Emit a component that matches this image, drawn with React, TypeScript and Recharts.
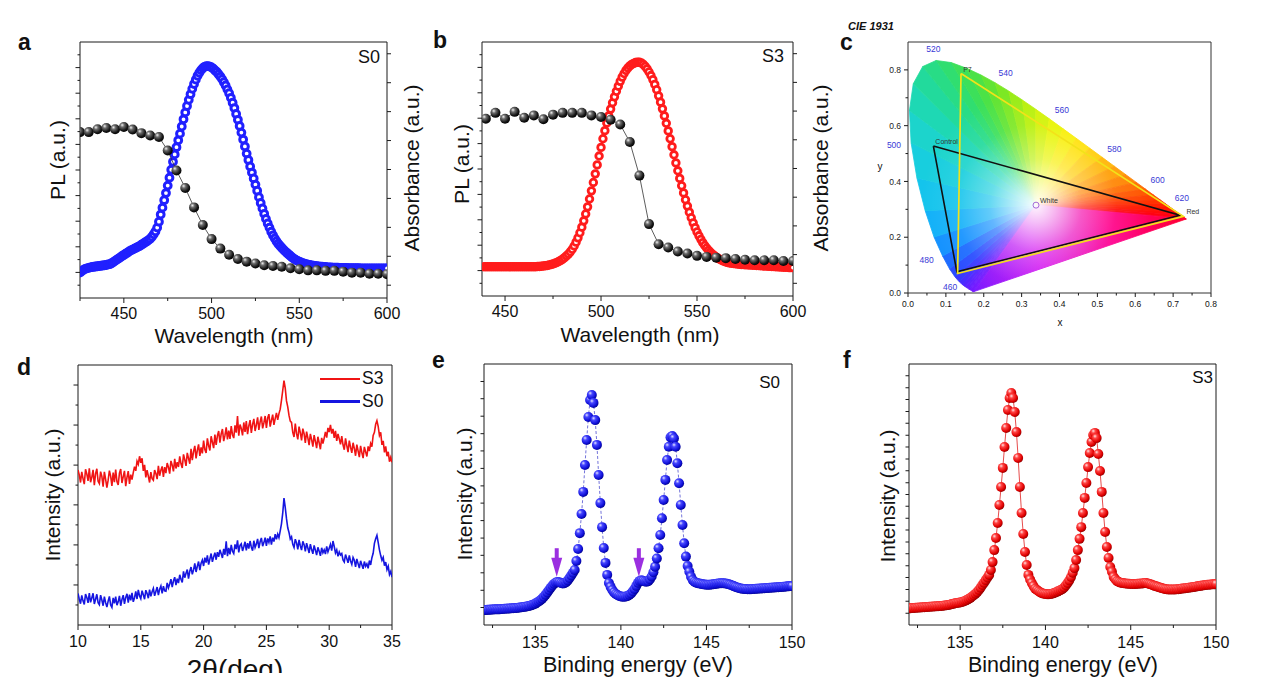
import React from 'react';
import {
  ScatterChart,
  Scatter,
  XAxis,
  YAxis,
  ReferenceLine,
  ReferenceDot,
  Legend,
} from 'recharts';

const FONT = '"Liberation Sans", Arial, Helvetica, sans-serif';
const INK = '#1a1a1a';

// ---------- panel a : S0 photoluminescence (1 nm grid) + absorbance
const PL_S0_START = 425;
const PL_S0 = [
  9.9, 10.5, 11.0, 11.4, 11.6, 11.8, 12.0, 12.1, 12.2, 12.3,
  12.4, 12.5, 12.6, 12.7, 12.8, 12.9, 13.1, 13.2, 13.6, 14.0,
  14.5, 15.0, 15.4, 15.9, 16.4, 16.8, 17.3, 17.7, 18.2, 18.6,
  18.9, 19.3, 19.6, 20.0, 20.3, 20.8, 21.2, 21.7, 22.1, 22.6,
  23.1, 23.9, 24.9, 26.0, 27.5, 29.8, 32.6, 35.3, 38.2, 41.0,
  43.9, 47.0, 50.1, 53.2, 56.1, 58.9, 61.6, 64.2, 67.0, 69.8,
  72.5, 75.0, 77.4, 79.6, 81.7, 83.6, 85.3, 86.8, 88.0, 89.0,
  89.8, 90.3, 90.6, 90.6, 90.4, 90.1, 89.6, 88.9, 88.3, 87.4,
  86.5, 85.5, 84.3, 83.0, 81.5, 80.0, 78.2, 76.3, 74.2, 71.9,
  69.6, 67.2, 64.6, 61.9, 59.2, 56.4, 53.9, 51.4, 49.0, 46.7,
  44.3, 41.9, 39.4, 37.1, 35.0, 32.9, 30.9, 29.1, 27.5, 25.9,
  24.5, 23.3, 22.2, 21.2, 20.4, 19.6, 18.9, 18.2, 17.6, 17.0,
  16.4, 15.8, 15.3, 14.9, 14.5, 14.2, 13.9, 13.6, 13.4, 13.2,
  13.0, 12.9, 12.7, 12.6, 12.5, 12.4, 12.3, 12.2, 12.2, 12.1,
  12.1, 12.0, 12.0, 12.0, 11.9, 11.9, 11.9, 11.9, 11.8, 11.8,
  11.8, 11.8, 11.8, 11.7, 11.7, 11.7, 11.7, 11.7, 11.7, 11.7,
  11.6, 11.6, 11.6, 11.6, 11.6, 11.6, 11.6, 11.6, 11.6, 11.6,
  11.6, 11.6, 11.6, 11.6, 11.6, 11.6,
];
const ABS_S0_NM = [
  425, 430, 435, 440, 445, 450, 455, 460, 465, 470, 475, 480, 485, 490, 495, 500, 505, 510,
  515, 520, 525, 530, 535, 540, 545, 550, 555, 560, 565, 570, 575, 580, 585, 590, 595, 600,
];
const ABS_S0 = [
  64.8, 64.8, 65.9, 66.4, 65.9, 66.8, 65.8, 64.4, 63.5, 62.9, 57.6, 49.8, 43.0, 35.4, 28.5, 23.0, 19.3, 16.9,
  15.2, 14.2, 13.5, 12.8, 12.5, 12.2, 11.6, 11.2, 10.8, 10.8, 10.6, 10.6, 10.3, 9.9, 9.9, 9.5, 9.5, 9.3,
];

// ---------- panel b : S3 photoluminescence + absorbance
const PL_S3_START = 439;
const PL_S3 = [
  11.5, 11.5, 11.5, 11.5, 11.5, 11.5, 11.5, 11.5, 11.5, 11.5,
  11.5, 11.5, 11.5, 11.5, 11.5, 11.5, 11.5, 11.5, 11.5, 11.5,
  11.5, 11.5, 11.5, 11.5, 11.5, 11.5, 11.5, 11.5, 11.6, 11.6,
  11.7, 11.8, 11.9, 12.0, 12.2, 12.4, 12.6, 12.9, 13.2, 13.6,
  14.0, 14.5, 15.1, 15.8, 16.5, 17.4, 18.4, 19.7, 21.2, 22.9,
  24.9, 27.1, 29.6, 32.3, 35.1, 38.2, 41.4, 44.7, 48.1, 51.6,
  55.1, 58.5, 61.9, 65.1, 68.1, 70.9, 73.6, 76.1, 78.4, 80.6,
  82.6, 84.5, 86.2, 87.6, 88.8, 89.8, 90.6, 91.2, 91.6, 91.9,
  92.0, 92.0, 91.8, 91.2, 90.4, 89.4, 88.2, 86.8, 85.2, 83.3,
  81.2, 78.8, 76.3, 73.7, 70.9, 68.0, 65.0, 61.9, 58.8, 55.6,
  52.4, 49.3, 46.3, 43.4, 40.6, 37.9, 35.4, 33.0, 30.8, 28.8,
  26.9, 25.2, 23.7, 22.3, 21.0, 19.9, 18.9, 18.0, 17.2, 16.5,
  15.9, 15.3, 14.8, 14.4, 14.0, 13.7, 13.4, 13.2, 13.0, 12.9,
  12.8, 12.7, 12.6, 12.5, 12.4, 12.4, 12.3, 12.3, 12.2, 12.2,
  12.1, 12.1, 12.0, 12.0, 11.9, 11.9, 11.8, 11.8, 11.7, 11.7,
  11.6, 11.6, 11.5, 11.5, 11.4, 11.4, 11.3, 11.3, 11.3, 11.2,
  11.2, 11.2,
];
const ABS_S3_NM = [
  440, 445, 450, 455, 460, 465, 470, 475, 480, 485, 490, 495, 500, 505, 510, 515, 520,
  525, 530, 535, 540, 545, 550, 555, 560, 565, 570, 575, 580, 585, 590, 595, 600,
];
const ABS_S3 = [
  69.8, 72.1, 69.8, 72.5, 70.2, 71.1, 69.6, 71.4, 72.1, 72.1, 72.1, 71.1, 70.5, 69.4, 67.5, 60.6, 47.4,
  28.3, 20.4, 19.1, 17.5, 16.7, 15.8, 15.4, 15.1, 14.9, 14.6, 14.3, 14.1, 14.1, 14.1, 13.8, 13.8,
];

// ---------- panel c : CIE 1931 chromaticity
const LOCUS_NM = [
  380, 420, 440, 445, 450, 455, 460, 465, 470, 475, 480, 485, 490, 495, 500, 505, 510, 515, 520, 525, 530, 535,
  540, 545, 550, 555, 560, 565, 570, 575, 580, 585, 590, 595, 600, 605, 610, 615, 620, 630, 640, 660, 700,
];
const LOCUS_X = [
  0.1741, 0.1714, 0.1644, 0.1611, 0.1566, 0.151, 0.144, 0.1355, 0.1241, 0.1096, 0.0913, 0.0687, 0.0454, 0.0235,
  0.0082, 0.0039, 0.0139, 0.0389, 0.0743, 0.1142, 0.1547, 0.1929, 0.2296, 0.2658, 0.3016, 0.3373, 0.3731, 0.4087,
  0.4441, 0.4788, 0.5125, 0.5448, 0.5752, 0.6029, 0.627, 0.6482, 0.6658, 0.6801, 0.6915, 0.7079, 0.719, 0.73, 0.7347,
];
const LOCUS_Y = [
  0.005, 0.0051, 0.0109, 0.0138, 0.0177, 0.0227, 0.0297, 0.0399, 0.0578, 0.0868, 0.1327, 0.2007, 0.295, 0.4127,
  0.5384, 0.6548, 0.7502, 0.812, 0.8338, 0.8262, 0.8059, 0.7816, 0.7543, 0.7243, 0.6923, 0.6589, 0.6245, 0.5896,
  0.5547, 0.5202, 0.4866, 0.4544, 0.4242, 0.3965, 0.3725, 0.3514, 0.334, 0.3197, 0.3083, 0.292, 0.2809, 0.27, 0.2653,
];
const LOCUS_COLORS = [
  '#7414ff', '#7014ff', '#6a18ff', '#6418ff', '#5c1cff', '#5020ff', '#4428ff', '#3434ff', '#2448ff', '#1868ff',
  '#1090ff', '#10b0f8', '#14c4ec', '#18cede', '#1cd4cc', '#1ed8b4', '#22da9c', '#28dc86', '#30de70', '#3ce05a',
  '#4ce246', '#62e434', '#7ce824', '#9aec16', '#b8f00a', '#d2f204', '#e8f400', '#f8ee00', '#ffe000', '#ffcc00',
  '#ffb400', '#ff9c00', '#ff8400', '#ff6c00', '#ff5600', '#ff4200', '#ff3200', '#ff2400', '#ff1800', '#ff0c08',
  '#ff0410', '#ff0018', '#ff0020',
];
const WHITE_POINT = [0.338, 0.315];
const CONTROL_X = [0.067, 0.718, 0.129, 0.067];
const CONTROL_Y = [0.527, 0.279, 0.076, 0.527];
const P7_X = [0.14, 0.727, 0.131, 0.14];
const P7_Y = [0.787, 0.275, 0.07, 0.787];
const NM_LABELS = ['520', '540', '560', '580', '600', '620', '500', '480', '460'];
const NM_LABEL_X = [0.067, 0.258, 0.406, 0.545, 0.659, 0.723, -0.037, 0.049, 0.111];
const NM_LABEL_Y = [0.876, 0.789, 0.656, 0.518, 0.404, 0.34, 0.532, 0.118, 0.02];
const NAME_LABELS = ['Control', 'P7', 'White', 'Red'];
const NAME_LABEL_X = [0.102, 0.157, 0.372, 0.752];
const NAME_LABEL_Y = [0.543, 0.801, 0.332, 0.293];

// ---------- panel d : XRD, 0.1 deg grid from 10 to 35
const XRD_START = 10;
const XRD_S3 = [
  59.6, 57.7, 54.8, 58.9, 56.3, 54.2, 59.9, 58.1, 55.4, 60.3,
  54.9, 56.8, 59.7, 53.8, 58.2, 60.1, 55.3, 54.4, 59.0, 57.2,
  53.2, 58.9, 56.0, 52.8, 55.7, 59.4, 57.3, 53.5, 58.6, 54.9,
  59.8, 55.2, 53.9, 58.4, 60.0, 54.6, 57.1, 59.3, 53.4, 56.8,
  59.2, 54.3, 57.8, 55.9, 58.6, 60.9, 59.3, 63.0, 61.8, 64.9,
  62.4, 64.1, 59.3, 61.6, 56.8, 59.6, 57.2, 54.8, 58.8, 56.3,
  55.7, 59.6, 58.3, 56.1, 61.2, 57.4, 59.5, 61.0, 57.0, 60.7,
  58.4, 62.3, 60.7, 58.2, 63.1, 61.5, 59.1, 63.9, 60.2, 62.6,
  60.8, 64.9, 62.0, 60.4, 65.6, 63.6, 61.2, 66.2, 64.1, 62.0,
  67.8, 63.4, 66.7, 68.9, 64.1, 67.2, 69.5, 65.0, 68.3, 66.0,
  70.9, 67.5, 66.2, 71.8, 69.0, 67.1, 72.6, 70.3, 68.0, 73.2,
  69.3, 72.8, 74.6, 70.1, 73.5, 75.4, 70.7, 72.9, 76.0, 71.4,
  74.8, 71.6, 76.5, 73.2, 71.9, 76.8, 74.0, 80.4, 72.8, 77.1,
  75.6, 72.9, 77.9, 74.3, 78.4, 73.4, 76.6, 78.8, 73.9, 77.2,
  79.3, 74.6, 77.0, 79.9, 75.0, 78.1, 80.2, 75.6, 77.8, 80.4,
  75.8, 79.6, 81.1, 76.3, 78.7, 80.9, 77.0, 79.4, 81.6, 78.9,
  81.3, 83.0, 86.4, 90.2, 94.0, 91.1, 86.2, 83.9, 80.6, 78.4,
  77.9, 74.1, 72.3, 77.5, 73.6, 71.4, 76.3, 74.0, 71.0, 75.5,
  73.6, 70.0, 74.4, 72.0, 69.2, 73.5, 71.3, 68.6, 73.0, 70.6,
  68.0, 72.4, 70.1, 67.6, 72.0, 69.8, 71.9, 74.3, 72.1, 75.8,
  74.2, 77.0, 73.6, 75.4, 72.0, 74.7, 70.8, 73.5, 71.6, 69.5,
  72.6, 69.3, 67.4, 71.8, 69.0, 66.5, 70.9, 68.4, 66.2, 70.1,
  67.9, 65.1, 69.4, 67.0, 64.6, 68.9, 66.3, 64.2, 68.5, 66.6,
  64.8, 68.7, 66.9, 69.8, 68.6, 72.9, 74.1, 77.2, 78.6, 76.4,
  72.9, 74.1, 69.3, 70.8, 66.4, 68.7, 64.9, 66.6, 62.8, 64.5,
  62.6,
];
const XRD_S0 = [
  12.1, 10.0, 8.2, 11.4, 9.3, 7.9, 11.9, 10.6, 8.5, 12.3,
  8.7, 10.4, 12.2, 8.1, 9.9, 11.8, 8.6, 7.8, 11.5, 9.6,
  7.4, 10.9, 8.6, 6.9, 9.2, 11.0, 7.7, 6.8, 10.4, 8.3,
  10.9, 7.6, 8.9, 11.2, 7.4, 9.8, 11.5, 8.1, 10.6, 12.0,
  8.6, 11.7, 9.5, 12.4, 8.9, 10.5, 12.9, 10.0, 13.5, 11.2,
  10.1, 13.2, 11.6, 9.9, 13.4, 12.1, 10.3, 13.6, 11.0, 12.8,
  14.1, 11.2, 12.9, 14.6, 11.5, 13.8, 15.0, 12.2, 14.9, 13.1,
  13.0, 16.2, 14.3, 15.8, 17.6, 14.6, 16.9, 18.4, 15.3, 17.8,
  16.1, 19.3, 17.6, 16.4, 20.6, 18.2, 19.9, 21.3, 17.8, 20.7,
  22.3, 19.5, 21.2, 23.7, 20.4, 22.6, 24.4, 21.1, 23.8, 25.0,
  22.7, 25.9, 24.0, 26.8, 23.2, 25.4, 27.5, 24.3, 26.2, 27.8,
  25.1, 28.0, 26.2, 28.9, 27.4, 25.8, 29.3, 27.0, 32.2, 26.5,
  29.7, 27.2, 30.8, 28.4, 27.5, 31.0, 29.2, 32.6, 27.9, 30.6,
  31.2, 28.5, 30.1, 32.0, 28.7, 31.5, 29.4, 32.3, 30.0, 28.6,
  32.4, 29.8, 31.1, 33.1, 29.6, 32.0, 33.5, 30.3, 31.7, 33.6,
  30.4, 33.3, 31.8, 34.1, 30.9, 33.6, 32.1, 34.9, 33.0, 35.0,
  33.6, 36.2, 38.9, 43.0, 48.8, 45.2, 40.9, 37.4, 35.6, 33.1,
  33.9, 31.0, 29.8, 33.0, 31.6, 29.1, 32.7, 30.5, 28.8, 32.2,
  30.9, 28.3, 31.5, 29.6, 27.7, 31.1, 29.0, 27.4, 30.6, 28.8,
  26.9, 29.9, 28.4, 26.6, 29.7, 27.8, 28.9, 27.3, 30.2, 28.1,
  29.5, 31.0, 28.6, 32.3, 30.2, 27.7, 28.9, 26.4, 28.1, 26.9,
  27.5, 25.0, 24.2, 27.1, 25.6, 23.9, 26.8, 24.6, 23.3, 26.0,
  24.9, 22.4, 25.4, 23.6, 21.9, 24.7, 23.2, 21.6, 24.4, 22.6,
  23.5, 21.8, 24.8, 23.1, 25.9, 27.6, 31.4, 33.2, 34.5, 31.8,
  28.9, 26.7, 24.9, 26.0, 22.8, 24.2, 21.3, 22.6, 19.4, 20.6,
  18.4,
];

// ---------- panels e, f : XPS, 0.1 eV grid from 132 to 150
const XPS_START = 132;
const XPS_S0 = [
  5.7, 5.7, 5.8, 5.8, 5.9, 5.9, 6.0, 6.0, 6.0, 6.0,
  6.1, 6.1, 6.2, 6.2, 6.3, 6.3, 6.4, 6.4, 6.5, 6.5,
  6.6, 6.7, 6.8, 6.9, 7.0, 7.1, 7.3, 7.4, 7.7, 7.9,
  8.2, 8.6, 9.0, 9.5, 10.1, 10.8, 11.6, 12.5, 13.4, 14.3,
  15.1, 15.8, 16.3, 16.5, 16.4, 16.1, 15.9, 16.0, 16.4, 17.1,
  18.0, 19.0, 20.0, 21.1, 24.5, 29.1, 35.2, 42.5, 51.0, 61.3,
  70.9, 79.7, 86.2, 88.1, 85.1, 78.5, 69.0, 57.5, 46.7, 37.5,
  29.5, 23.8, 19.2, 16.1, 14.6, 13.4, 12.5, 11.9, 11.5, 11.1,
  10.9, 10.8, 10.8, 10.9, 11.1, 11.6, 12.1, 12.9, 13.8, 15.0,
  16.2, 16.9, 17.1, 16.9, 16.7, 16.6, 16.8, 17.5, 18.6, 20.2,
  22.3, 25.5, 29.4, 34.5, 40.9, 47.9, 55.6, 63.2, 68.3, 71.9,
  72.4, 71.5, 68.3, 62.0, 54.3, 46.0, 38.3, 31.3, 26.2, 22.6,
  20.4, 18.5, 17.2, 16.6, 16.2, 16.0, 15.9, 15.7, 15.6, 15.5,
  15.4, 15.4, 15.4, 15.5, 15.6, 15.7, 15.8, 15.9, 16.0, 16.0,
  16.0, 15.9, 15.8, 15.6, 15.4, 15.1, 14.9, 14.6, 14.4, 14.2,
  14.0, 13.9, 13.8, 13.8, 13.7, 13.7, 13.7, 13.8, 13.8, 13.9,
  13.9, 14.0, 14.0, 14.1, 14.1, 14.2, 14.2, 14.3, 14.3, 14.4,
  14.4, 14.5, 14.5, 14.6, 14.6, 14.7, 14.7, 14.8, 14.8, 14.9,
  14.9,
];
const XPS_S3 = [
  6.4, 6.4, 6.5, 6.5, 6.6, 6.6, 6.7, 6.7, 6.8, 6.8,
  6.9, 6.9, 7.0, 7.0, 7.1, 7.1, 7.2, 7.2, 7.3, 7.3,
  7.4, 7.5, 7.6, 7.7, 7.8, 8.0, 8.1, 8.3, 8.4, 8.5,
  8.6, 8.8, 9.0, 9.3, 9.6, 10.0, 10.4, 10.9, 11.4, 12.0,
  12.6, 13.4, 14.3, 15.3, 16.2, 17.2, 18.2, 19.2, 21.1, 24.1,
  28.7, 33.3, 39.1, 46.0, 52.9, 60.2, 68.2, 75.5, 82.4, 87.0,
  88.9, 87.0, 81.6, 73.9, 64.0, 52.9, 42.9, 34.9, 28.0, 23.0,
  19.2, 17.4, 16.1, 14.9, 13.9, 13.4, 12.9, 12.5, 12.2, 12.0,
  11.9, 11.8, 11.8, 11.9, 12.0, 12.3, 12.5, 12.8, 13.1, 13.4,
  13.8, 14.4, 15.2, 16.1, 17.1, 18.4, 20.0, 21.8, 24.9, 28.7,
  33.0, 37.5, 42.9, 48.7, 54.4, 60.5, 65.9, 70.1, 72.8, 73.6,
  71.6, 65.5, 59.0, 51.0, 42.9, 35.6, 29.9, 25.7, 22.2, 20.4,
  18.4, 17.5, 16.8, 16.5, 16.2, 16.1, 16.0, 15.9, 15.8, 15.8,
  15.7, 15.7, 15.7, 15.7, 15.8, 15.8, 15.9, 15.9, 16.1, 16.1,
  15.9, 15.7, 15.5, 15.2, 15.0, 14.8, 14.6, 14.4, 14.2, 14.0,
  13.8, 13.7, 13.6, 13.6, 13.6, 13.6, 13.6, 13.7, 13.7, 13.8,
  14.0, 14.0, 14.1, 14.2, 14.3, 14.4, 14.5, 14.6, 14.7, 14.8,
  14.9, 15.0, 15.1, 15.2, 15.3, 15.4, 15.4, 15.5, 15.6, 15.6,
  15.7,
];
const ARROW_EV = [136.25, 141.05];
const ARROW_Y = [18.5, 18.5];

// ---------- tick positions
const WL_TICKS_A = [425, 450, 475, 500, 525, 550, 575, 600];
const WL_TICKS_B = [450, 475, 500, 525, 550, 575, 600];
const PL_TICKS = [5, 10, 15, 20, 25, 30, 35, 40, 45, 50, 55, 60, 65, 70, 75, 80, 85, 90, 95];
const ABS_TICKS = [5, 16.3, 27.6, 38.9, 50.2, 61.5, 72.8, 84.1, 95.4];
const CIE_X_TICKS = [0, 0.05, 0.1, 0.15, 0.2, 0.25, 0.3, 0.35, 0.4, 0.45, 0.5, 0.55, 0.6, 0.65, 0.7, 0.75, 0.8];
const CIE_Y_TICKS = [0, 0.1, 0.2, 0.3, 0.4, 0.5, 0.6, 0.7, 0.8];
const XRD_X_TICKS = [10, 12.5, 15, 17.5, 20, 22.5, 25, 27.5, 30, 32.5, 35];
const XRD_Y_MAJOR = [15.4, 30.8, 46.2, 61.5, 76.9, 92.3];
const XRD_Y_TICKS = [7.7, 15.4, 23.1, 30.8, 38.5, 46.2, 53.8, 61.5, 69.2, 76.9, 84.6, 92.3];
const XPS_X_TICKS = [132.5, 135, 137.5, 140, 142.5, 145, 147.5, 150];
const XPS_S0_Y_TICKS = [6.7, 13.3, 20, 26.7, 33.3, 40, 46.7, 53.3, 60, 66.7, 73.3, 80, 86.7, 93.3];
const XPS_S3_Y_TICKS = [
  4.5, 9.1, 13.6, 18.2, 22.7, 27.3, 31.8, 36.4, 40.9, 45.5, 50, 54.5, 59.1, 63.6, 68.2, 72.7, 77.3, 81.8, 86.4,
  90.9, 95.5,
];
const LEGEND_ORDER = ['S3', 'S0'];

const grid = (start: number, step: number, ys: number[]) =>
  ys.map((y, i) => ({ x: Math.round((start + i * step) * 100) / 100, y }));
const pairs = (xs: number[], ys: number[]) => xs.map((x, i) => ({ x, y: ys[i] }));

const plS0 = grid(PL_S0_START, 1, PL_S0);
const absS0 = pairs(ABS_S0_NM, ABS_S0);
const plS3 = grid(PL_S3_START, 1, PL_S3);
const absS3 = pairs(ABS_S3_NM, ABS_S3);
const gamut = [{ x: WHITE_POINT[0], y: WHITE_POINT[1] }, ...pairs(LOCUS_X, LOCUS_Y)];
const controlTri = pairs(CONTROL_X, CONTROL_Y);
const p7Tri = pairs(P7_X, P7_Y);
const xrdS3 = grid(XRD_START, 0.1, XRD_S3);
const xrdS0 = grid(XRD_START, 0.1, XRD_S0);
const xpsS0 = grid(XPS_START, 0.1, XPS_S0);
const xpsS3 = grid(XPS_START, 0.1, XPS_S3);
const arrows = pairs(ARROW_EV, ARROW_Y);

type TickCfg = {
  side: 'left' | 'right' | 'bottom';
  len: (v: number) => number;
  label?: (v: number) => string | null;
  fontSize?: number;
  gap?: number;
};

const tickRenderer = (cfg: TickCfg) => (props: any) => {
  const { x, y, payload } = props;
  const v = payload.value as number;
  const len = cfg.len(v);
  const text = cfg.label ? cfg.label(v) : null;
  const fs = cfg.fontSize ?? 16;
  const gap = cfg.gap ?? 4;
  if (cfg.side === 'bottom') {
    return (
      <g>
        <line x1={x} x2={x} y1={y} y2={y + len} stroke={INK} strokeWidth={1} />
        {text !== null && (
          <text x={x} y={y + len + gap + fs * 0.72} textAnchor="middle" fontSize={fs} fill="#111" fontFamily={FONT}>
            {text}
          </text>
        )}
      </g>
    );
  }
  const dir = cfg.side === 'left' ? -1 : 1;
  return (
    <g>
      <line x1={x} x2={x + dir * len} y1={y} y2={y} stroke={INK} strokeWidth={1} />
      {text !== null && (
        <text
          x={x + dir * (len + gap)}
          y={y + fs * 0.36}
          textAnchor={dir < 0 ? 'end' : 'start'}
          fontSize={fs}
          fill="#222"
          fontFamily={FONT}
        >
          {text}
        </text>
      )}
    </g>
  );
};

const AXIS = { stroke: INK, strokeWidth: 1 };
const noShape = () => <g />;
const ring = (color: string, r: number, w: number) => (p: any) => (
  <circle cx={p.cx} cy={p.cy} r={r} fill="#fff" stroke={color} strokeWidth={w} />
);
const ball = (id: string, r: number) => (p: any) => <circle cx={p.cx} cy={p.cy} r={r} fill={`url(#${id})`} />;
const arrowShape = (p: any) => (
  <g fill="#9b2fe0">
    <rect x={p.cx - 2} y={p.cy - 28.5} width={4} height={10} />
    <polygon points={`${p.cx - 5.5},${p.cy - 19} ${p.cx + 5.5},${p.cy - 19} ${p.cx},${p.cy}`} />
  </g>
);

// filled horseshoe: fan of sectors from the white point, then a white glow
const renderGamut = (props: any) => {
  const pts = props.points as { x: number; y: number }[];
  if (!pts || pts.length < 3) return <g />;
  const [w, ...edge] = pts;
  const first = edge[0];
  const last = edge[edge.length - 1];
  const sectors = [];
  for (let i = 0; i < edge.length - 1; i++) {
    const a = edge[i];
    const b = edge[i + 1];
    sectors.push(
      <polygon
        key={i}
        points={`${w.x},${w.y} ${a.x},${a.y} ${b.x},${b.y}`}
        fill={LOCUS_COLORS[i]}
        stroke={LOCUS_COLORS[i]}
        strokeWidth={0.8}
        strokeLinejoin="round"
      />,
    );
  }
  const outline = edge.map((p) => `${p.x},${p.y}`).join(' ');
  return (
    <g>
      <defs>
        <linearGradient id="ciePurple" gradientUnits="userSpaceOnUse" x1={last.x} y1={last.y} x2={first.x} y2={first.y}>
          <stop offset="0" stopColor="#ff0030" />
          <stop offset="0.35" stopColor="#ff0090" />
          <stop offset="0.68" stopColor="#d000f0" />
          <stop offset="1" stopColor="#7414ff" />
        </linearGradient>
        <radialGradient id="cieWhite" gradientUnits="userSpaceOnUse" cx={w.x} cy={w.y} r={115}>
          <stop offset="0" stopColor="#fff" stopOpacity={0.97} />
          <stop offset="0.15" stopColor="#fff" stopOpacity={0.75} />
          <stop offset="0.4" stopColor="#fff" stopOpacity={0.35} />
          <stop offset="0.7" stopColor="#fff" stopOpacity={0.08} />
          <stop offset="1" stopColor="#fff" stopOpacity={0} />
        </radialGradient>
      </defs>
      {sectors}
      <polygon
        points={`${w.x},${w.y} ${last.x},${last.y} ${first.x},${first.y}`}
        fill="url(#ciePurple)"
        stroke="url(#ciePurple)"
        strokeWidth={0.8}
      />
      <polygon points={outline} fill="url(#cieWhite)" />
    </g>
  );
};

const xrdLegend = (props: any) => {
  const items = ([...(props.payload || [])] as any[]).sort(
    (a, b) => LEGEND_ORDER.indexOf(a.value) - LEGEND_ORDER.indexOf(b.value),
  );
  return (
    <div style={{ fontFamily: FONT }}>
      {items.map((it) => (
        <div key={it.value} style={{ display: 'flex', alignItems: 'center', height: 22.7 }}>
          <span style={{ display: 'inline-block', width: 40, height: 2.5, background: it.color }} />
          <span style={{ fontSize: 17.5, color: '#111', marginLeft: 2 }}>{it.value}</span>
        </div>
      ))}
    </div>
  );
};

const Abs = ({ left, top, children }: { left: number; top: number; children: React.ReactNode }) => (
  <div style={{ position: 'absolute', left, top }}>{children}</div>
);

const bottomWl = tickRenderer({
  side: 'bottom',
  len: (v) => (v % 50 === 0 ? 5 : 3),
  label: (v) => (v % 50 === 0 ? String(v) : null),
  gap: 4,
});
const leftMinor = (majorEvery: number) =>
  tickRenderer({ side: 'left', len: (v) => (Math.round(v) % majorEvery === 0 ? 4.5 : 2.5) });

export default function App() {
  return (
    <div
      style={{
        position: 'absolute',
        left: 0,
        top: 0,
        width: 1280,
        height: 687,
        background: '#fff',
        overflow: 'hidden',
        fontFamily: FONT,
      }}
    >
      <svg width={0} height={0} style={{ position: 'absolute' }}>
        <defs>
          <radialGradient id="ballBlack" cx="0.38" cy="0.36" r="0.68" fx="0.33" fy="0.3">
            <stop offset="0" stopColor="#f2f2f2" />
            <stop offset="0.3" stopColor="#6c6c6c" />
            <stop offset="0.75" stopColor="#151515" />
            <stop offset="1" stopColor="#000" />
          </radialGradient>
          <radialGradient id="ballBlue" cx="0.38" cy="0.36" r="0.68" fx="0.33" fy="0.3">
            <stop offset="0" stopColor="#e4e4ff" />
            <stop offset="0.3" stopColor="#4646ff" />
            <stop offset="0.75" stopColor="#1010d8" />
            <stop offset="1" stopColor="#00008a" />
          </radialGradient>
          <radialGradient id="ballRed" cx="0.38" cy="0.36" r="0.68" fx="0.33" fy="0.3">
            <stop offset="0" stopColor="#ffe4e4" />
            <stop offset="0.3" stopColor="#ff4444" />
            <stop offset="0.75" stopColor="#e00000" />
            <stop offset="1" stopColor="#8c0000" />
          </radialGradient>
        </defs>
      </svg>

      {/* a */}
      <Abs left={0} top={0}>
        <ScatterChart width={430} height={345} margin={{ top: 42, right: 0, bottom: 0, left: 0 }}>
          <XAxis type="number" dataKey="x" domain={[425, 600]} allowDataOverflow ticks={WL_TICKS_A} interval={0}
            tickSize={0} tickMargin={0} tickLine={false} axisLine={AXIS} height={47} tick={bottomWl} />
          <YAxis yAxisId="pl" type="number" dataKey="y" domain={[0, 100]} allowDataOverflow ticks={PL_TICKS}
            interval={0} tickSize={0} tickMargin={0} tickLine={false} axisLine={AXIS} width={80} tick={leftMinor(10)} />
          <YAxis yAxisId="abs" orientation="right" type="number" dataKey="y" domain={[0, 100]} allowDataOverflow
            ticks={ABS_TICKS} interval={0} tickSize={0} tickMargin={0} tickLine={false} axisLine={AXIS} width={43}
            tick={tickRenderer({ side: 'right', len: () => 4 })} />
          <ReferenceLine yAxisId="pl" y={100} stroke={INK} strokeWidth={1} />
          <Scatter yAxisId="pl" data={plS0} shape={ring('#2020ff', 3.4, 3.0)} isAnimationActive={false} />
          <Scatter yAxisId="abs" data={absS0} line={{ stroke: '#333', strokeWidth: 0.8 }}
            shape={ball('ballBlack', 5)} isAnimationActive={false} />
        </ScatterChart>
      </Abs>

      {/* b */}
      <Abs left={440} top={0}>
        <ScatterChart width={400} height={345} margin={{ top: 42, right: 0, bottom: 0, left: 0 }}>
          <XAxis type="number" dataKey="x" domain={[438, 600]} allowDataOverflow ticks={WL_TICKS_B} interval={0}
            tickSize={0} tickMargin={0} tickLine={false} axisLine={AXIS} height={49} tick={bottomWl} />
          <YAxis yAxisId="pl" type="number" dataKey="y" domain={[0, 100]} allowDataOverflow ticks={PL_TICKS}
            interval={0} tickSize={0} tickMargin={0} tickLine={false} axisLine={AXIS} width={42} tick={leftMinor(10)} />
          <YAxis yAxisId="abs" orientation="right" type="number" dataKey="y" domain={[0, 100]} allowDataOverflow
            ticks={ABS_TICKS} interval={0} tickSize={0} tickMargin={0} tickLine={false} axisLine={AXIS} width={47}
            tick={tickRenderer({ side: 'right', len: () => 4 })} />
          <ReferenceLine yAxisId="pl" y={100} stroke={INK} strokeWidth={1} />
          <Scatter yAxisId="pl" data={plS3} shape={ring('#ff1c1c', 3.3, 2.8)} isAnimationActive={false} />
          <Scatter yAxisId="abs" data={absS3} line={{ stroke: '#333', strokeWidth: 0.8 }}
            shape={ball('ballBlack', 5)} isAnimationActive={false} />
        </ScatterChart>
      </Abs>

      {/* c */}
      <Abs left={860} top={0}>
        <ScatterChart width={380} height={340} margin={{ top: 42, right: 29, bottom: 0, left: 0 }}>
          <XAxis type="number" dataKey="x" domain={[0, 0.8]} allowDataOverflow ticks={CIE_X_TICKS} interval={0}
            tickSize={0} tickMargin={0} tickLine={false} axisLine={{ stroke: '#333' }} height={47}
            tick={tickRenderer({
              side: 'bottom',
              len: (v) => (Math.round(v * 100) % 10 === 0 ? 4 : 2.5),
              label: (v) => (Math.round(v * 100) % 10 === 0 ? v.toFixed(1) : null),
              fontSize: 8.5,
              gap: 4.2,
            })} />
          <YAxis type="number" dataKey="y" domain={[0, 0.9]} allowDataOverflow ticks={CIE_Y_TICKS} interval={0}
            tickSize={0} tickMargin={0} tickLine={false} axisLine={{ stroke: '#333' }} width={48}
            tick={tickRenderer({
              side: 'left',
              len: (v) => (Math.round(v * 10) % 2 === 0 ? 4 : 2.5),
              label: (v) => (Math.round(v * 10) % 2 === 0 ? v.toFixed(1) : null),
              fontSize: 8.5,
              gap: 3,
            })} />
          <ReferenceLine x={0.8} stroke="#333" strokeWidth={1} />
          <ReferenceLine y={0.9} stroke="#333" strokeWidth={1} />
          <Scatter data={gamut} line={renderGamut} shape={noShape} isAnimationActive={false} />
          <Scatter data={controlTri} line={{ stroke: '#111', strokeWidth: 1.6 }} shape={noShape}
            isAnimationActive={false} />
          <Scatter data={p7Tri} line={{ stroke: '#f2e21a', strokeWidth: 1.7 }} shape={noShape}
            isAnimationActive={false} />
          <Scatter data={[{ x: WHITE_POINT[0], y: WHITE_POINT[1] }]} isAnimationActive={false}
            shape={(p: any) => <circle cx={p.cx} cy={p.cy} r={3} fill="none" stroke="#a46ad8" strokeWidth={1} />} />
          {NM_LABELS.map((t, i) => (
            <ReferenceDot key={t} x={NM_LABEL_X[i]} y={NM_LABEL_Y[i]} ifOverflow="visible"
              shape={(p: any) => (
                <text x={p.cx} y={p.cy + 3} textAnchor="middle" fontSize={8.5} fill="#3a3ad6" fontFamily={FONT}>
                  {t}
                </text>
              )} />
          ))}
          {NAME_LABELS.map((t, i) => (
            <ReferenceDot key={t} x={NAME_LABEL_X[i]} y={NAME_LABEL_Y[i]} ifOverflow="visible"
              shape={(p: any) => (
                <text x={p.cx} y={p.cy + 2.5} textAnchor="middle" fontSize={7} fill="#333" fontFamily={FONT}>
                  {t}
                </text>
              )} />
          ))}
        </ScatterChart>
      </Abs>

      {/* d */}
      <Abs left={0} top={350}>
        <ScatterChart width={420} height={320} margin={{ top: 15, right: 28, bottom: 0, left: 0 }}>
          <XAxis type="number" dataKey="x" domain={[10, 35]} allowDataOverflow ticks={XRD_X_TICKS} interval={0}
            tickSize={0} tickMargin={0} tickLine={false} axisLine={AXIS} height={45}
            tick={tickRenderer({
              side: 'bottom',
              len: (v) => (v % 5 === 0 ? 5 : 3),
              label: (v) => (v % 5 === 0 ? String(v) : null),
              gap: 5,
            })} />
          <YAxis type="number" dataKey="y" domain={[0, 100]} allowDataOverflow ticks={XRD_Y_TICKS} interval={0}
            tickSize={0} tickMargin={0} tickLine={false} axisLine={AXIS} width={78}
            tick={tickRenderer({ side: 'left', len: (v) => (XRD_Y_MAJOR.includes(v) ? 4.5 : 2.5) })} />
          <ReferenceLine x={35} stroke={INK} strokeWidth={1} />
          <ReferenceLine y={100} stroke={INK} strokeWidth={1} />
          <Scatter name="S3" data={xrdS3} fill="#f01414" line={{ stroke: '#f01414', strokeWidth: 1.6 }}
            shape={noShape} isAnimationActive={false} />
          <Scatter name="S0" data={xrdS0} fill="#1616e0" line={{ stroke: '#1616e0', strokeWidth: 1.6 }}
            shape={noShape} isAnimationActive={false} />
          <Legend layout="vertical" align="center" verticalAlign="middle" content={xrdLegend}
            wrapperStyle={{ top: 17.5, left: 320, width: 80, height: 46 }} />
        </ScatterChart>
      </Abs>

      {/* e */}
      <Abs left={440} top={350}>
        <ScatterChart width={380} height={320} margin={{ top: 14, right: 28, bottom: 0, left: 0 }}>
          <XAxis type="number" dataKey="x" domain={[132, 150]} allowDataOverflow ticks={XPS_X_TICKS} interval={0}
            tickSize={0} tickMargin={0} tickLine={false} axisLine={AXIS} height={45}
            tick={tickRenderer({
              side: 'bottom',
              len: (v) => (v % 5 === 0 ? 5 : 3),
              label: (v) => (v % 5 === 0 ? String(v) : null),
              gap: 6,
            })} />
          <YAxis type="number" dataKey="y" domain={[0, 100]} allowDataOverflow ticks={XPS_S0_Y_TICKS} interval={0}
            tickSize={0} tickMargin={0} tickLine={false} axisLine={AXIS} width={44}
            tick={tickRenderer({ side: 'left', len: () => 3.5 })} />
          <ReferenceLine x={150} stroke={INK} strokeWidth={1} />
          <ReferenceLine y={100} stroke={INK} strokeWidth={1} />
          <Scatter data={xpsS0} line={{ stroke: '#5050d0', strokeWidth: 0.8, strokeDasharray: '3 2' }}
            shape={ball('ballBlue', 5)} isAnimationActive={false} />
          <Scatter data={arrows} shape={arrowShape} isAnimationActive={false} />
        </ScatterChart>
      </Abs>

      {/* f */}
      <Abs left={860} top={350}>
        <ScatterChart width={380} height={320} margin={{ top: 14, right: 24, bottom: 0, left: 0 }}>
          <XAxis type="number" dataKey="x" domain={[132, 150]} allowDataOverflow ticks={XPS_X_TICKS} interval={0}
            tickSize={0} tickMargin={0} tickLine={false} axisLine={AXIS} height={45}
            tick={tickRenderer({
              side: 'bottom',
              len: (v) => (v % 5 === 0 ? 5 : 3),
              label: (v) => (v % 5 === 0 ? String(v) : null),
              gap: 6,
            })} />
          <YAxis type="number" dataKey="y" domain={[0, 100]} allowDataOverflow ticks={XPS_S3_Y_TICKS} interval={0}
            tickSize={0} tickMargin={0} tickLine={false} axisLine={AXIS} width={49}
            tick={tickRenderer({ side: 'left', len: () => 3.5 })} />
          <ReferenceLine x={150} stroke={INK} strokeWidth={1} />
          <ReferenceLine y={100} stroke={INK} strokeWidth={1} />
          <Scatter data={xpsS3} line={{ stroke: '#e02020', strokeWidth: 0.8 }} shape={ball('ballRed', 5)}
            isAnimationActive={false} />
        </ScatterChart>
      </Abs>

      {/* titles and annotations */}
      <svg width={1280} height={687} style={{ position: 'absolute', left: 0, top: 0, pointerEvents: 'none' }}
        fontFamily={FONT} fill="#111">
        <defs>
          <clipPath id="cutBottom">
            <rect x={0} y={0} width={1280} height={673} />
          </clipPath>
        </defs>
        <g fontWeight="bold" fontSize={23}>
          <text x={18} y={50}>a</text>
          <text x={433} y={48}>b</text>
          <text x={840} y={50}>c</text>
          <text x={17} y={375}>d</text>
          <text x={432} y={368}>e</text>
          <text x={843} y={368}>f</text>
        </g>
        <text x={848} y={30} fontSize={11} fontWeight="bold" fontStyle="italic">CIE 1931</text>
        <text x={380} y={63} fontSize={18} textAnchor="end">S0</text>
        <text x={784} y={62} fontSize={18} textAnchor="end">S3</text>
        <text x={780} y={388} fontSize={17} textAnchor="end">S0</text>
        <text x={1213} y={383} fontSize={17} textAnchor="end">S3</text>
        <text x={234} y={343} fontSize={21} textAnchor="middle">Wavelength (nm)</text>
        <text x={640} y={342} fontSize={21} textAnchor="middle">Wavelength (nm)</text>
        <text x={638} y={672} fontSize={21.5} textAnchor="middle">Binding energy (eV)</text>
        <text x={1063} y={672} fontSize={21.5} textAnchor="middle">Binding energy (eV)</text>
        <text x={235} y={679} fontSize={28} textAnchor="middle" clipPath="url(#cutBottom)">2θ(deg)</text>
        <text x={880} y={170} fontSize={10} textAnchor="middle">y</text>
        <text x={1060} y={326} fontSize={10} textAnchor="middle">x</text>
        <g fontSize={21} textAnchor="middle" dominantBaseline="central">
          <text transform="translate(57,160) rotate(-90)">PL (a.u.)</text>
          <text transform="translate(411,168) rotate(-90)">Absorbance (a.u.)</text>
          <text transform="translate(461,164) rotate(-90)">PL (a.u.)</text>
          <text transform="translate(820,168) rotate(-90)">Absorbance (a.u.)</text>
          <text transform="translate(52,495) rotate(-90)">Intensity (a.u.)</text>
          <text transform="translate(464,494) rotate(-90)">Intensity (a.u.)</text>
          <text transform="translate(887,496) rotate(-90)">Intensity (a.u.)</text>
        </g>
      </svg>
    </div>
  );
}
